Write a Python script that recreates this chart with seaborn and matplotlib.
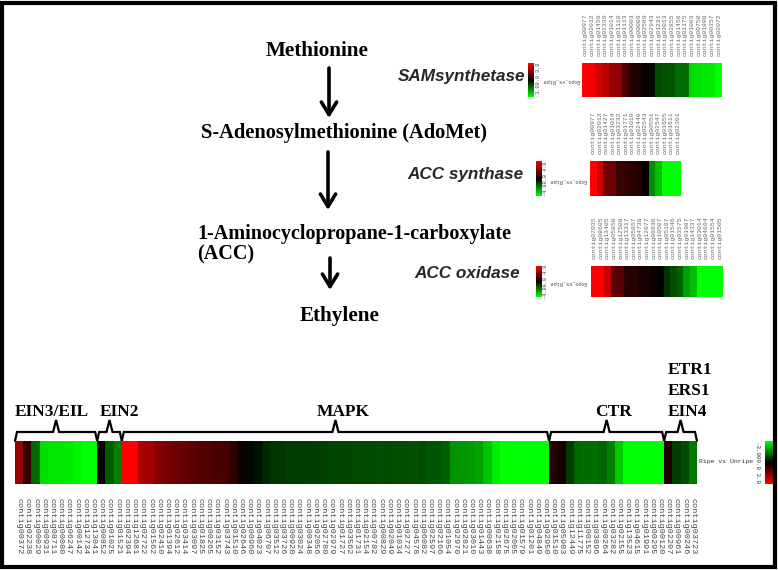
import numpy as np
import pandas as pd
import matplotlib
matplotlib.use('Agg')
import matplotlib.pyplot as plt
import seaborn as sns
from matplotlib.colors import LinearSegmentedColormap
from matplotlib.patches import Rectangle

# ---- data ----
sam_labels = ['contig00977', 'contig02012', 'contig01459', 'contig02339', 'contig01014',
              'contig01110', 'contig01113', 'contig00003', 'contig00009', 'contig02569',
              'contig02943', 'contig01231', 'contig03013', 'contig02855', 'contig01456',
              'contig01175', 'contig01003', 'contig00750', 'contig01808', 'contig00357',
              'contig02072']
sam_values = [3.0, 2.9, 2.5, 2.2, 1.8, 1.7, 0.9, 0.4, 0.35, 0.1, -0.15, -0.9, -0.95,
              -1.0, -1.25, -1.3, -2.6, -2.65, -2.7, -2.75, -3.0]

accs_labels = ['contig00977', 'contig02012', 'contig01427', 'contig01014', 'contig03232',
               'contig01771', 'contig01010', 'contig02440', 'contig02543', 'contig00551',
               'contig02547', 'contig01655', 'contig01611', 'contig02301']
accs_values = [4.0, 3.2, 1.75, 1.7, 0.9, 0.85, 0.6, 0.55, 0.05, -2.2, -3.0, -4.0, -4.0, -4.0]

acco_labels = ['contig07035', 'contig08605', 'contig13405', 'contig05850', 'contig12508',
               'contig13317', 'contig05857', 'contig04738', 'contig12677', 'contig08636',
               'contig10507', 'contig05167', 'contig01546', 'contig03575', 'contig01987',
               'contig14337', 'contig03014', 'contig04694', 'contig01554', 'contig01505']
acco_values = [4.0, 4.0, 3.1, 1.4, 1.4, 0.65, 0.6, 0.4, 0.4, 0.15, 0.0, -0.8, -1.25,
               -1.55, -2.5, -3.0, -4.0, -4.0, -4.0, -4.0]

strip_labels = ['contig00372', 'contig02238', 'contig00029', 'contig00931', 'contig08711',
                'contig00080', 'contig06247', 'contig00142', 'contig12734', 'contig13041',
                'contig00852', 'contig01025', 'contig01521', 'contig02394', 'contig12681',
                'contig02722', 'contig01562', 'contig02410', 'contig01394', 'contig02612',
                'contig03414', 'contig03097', 'contig01825', 'contig00265', 'contig03152',
                'contig03743', 'contig01510', 'contig02646', 'contig00960', 'contig04023',
                'contig06707', 'contig03512', 'contig03726', 'contig00920', 'contig03024',
                'contig00348', 'contig02056', 'contig02780', 'contig02979', 'contig01727',
                'contig03562', 'contig01731', 'contig02154', 'contig00782', 'contig00829',
                'contig02049', 'contig01034', 'contig02727', 'contig04578', 'contig06082',
                'contig02597', 'contig02166', 'contig01054', 'contig02970', 'contig02821',
                'contig03010', 'contig01443', 'contig00638', 'contig02158', 'contig02675',
                'contig02005', 'contig01579', 'contig01201', 'contig04849', 'contig02950',
                'contig01510', 'contig05903', 'contig12449', 'contig11775', 'contig00152',
                'contig03896', 'contig00264', 'contig03282', 'contig02155', 'contig13523',
                'contig04615', 'contig01991', 'contig00295', 'contig00120', 'contig02207',
                'contig00961', 'contig00246', 'contig03723']
strip_values = [1.8, 0.6, -1.2, -2.6, -2.7, -2.7, -2.75, -2.9, -3.0, -3.0,
                0.05, -1.1, -1.5,
                3.0, 3.0, 2.0, 1.9, 1.55, 1.4, 1.3, 1.2, 1.1, 1.0, 0.95, 0.85, 0.8, 0.6,
                0.15, -0.1, -0.2, -0.45, -0.6, -0.65, -0.7, -0.7, -0.7, -0.75, -0.75,
                -0.8, -0.8, -0.8, -0.85, -0.85, -0.85, -0.9, -0.85, -0.9, -0.9, -0.95,
                -0.9, -1.0, -1.0, -1.1, -1.75, -1.75, -1.8, -1.9, -2.3, -2.8, -3.0,
                -3.0, -3.0, -3.0, -3.0, -3.0,
                0.45, 0.25, -0.7, -1.2, -1.25, -1.3, -1.2, -1.5, -2.4, -3.0, -3.0,
                -3.0, -3.0, -3.0,
                0.4, -0.7, -0.9, -1.4]

groups = ['EIN3/EIL', 'EIN2', 'MAPK', 'CTR', 'ETR']
group_sizes = [10, 3, 52, 14, 4]

W, H = 778, 570
cmap = LinearSegmentedColormap.from_list('gbr', ['#00ff00', '#000000', '#ff0000'])

sns.set_style('white')
plt.rcParams['font.family'] = ['DejaVu Sans']

fig = plt.figure(figsize=(W / 100, H / 100), dpi=100)
base = fig.add_axes([0, 0, 1, 1])
base.set_xlim(0, W)
base.set_ylim(H, 0)
base.axis('off')


def px_axes(x0, y0, x1, y1):
    return fig.add_axes([x0 / W, 1 - y1 / H, (x1 - x0) / W, (y1 - y0) / H])


# frame
base.add_patch(Rectangle((2.5, 2.5), W - 5, H - 6, fill=False, lw=3, ec='black'))

serif = dict(family='Liberation Serif', weight='bold', color='black')
base.text(317, 51, 'Methionine', ha='center', va='center', fontsize=15.2, **serif)
base.text(201, 133, 'S-Adenosylmethionine (AdoMet)', ha='left', va='center', fontsize=14.7, **serif)
base.text(197, 234, '1-Aminocyclopropane-1-carboxylate', ha='left', va='center', fontsize=14.5, **serif)
base.text(197, 254, '(ACC)', ha='left', va='center', fontsize=14.5, **serif)
base.text(300, 316, 'Ethylene', ha='left', va='center', fontsize=15.2, **serif)

for x, y0, y1 in [(329, 68, 118), (328, 152, 210), (330, 258, 290)]:
    base.annotate('', xy=(x, y1), xytext=(x, y0),
                  arrowprops=dict(arrowstyle='->,head_width=0.55,head_length=0.9',
                                  lw=2.6, color='black', shrinkA=0, shrinkB=0))

gene = dict(family='Liberation Sans', weight='bold', style='italic', fontsize=12.3,
            ha='right', va='center')
base.text(525, 77, 'SAMsynthetase', **gene)
base.text(523, 175, 'ACC synthase', **gene)
base.text(520, 274, 'ACC oxidase', **gene)

mono = ['Liberation Mono', 'DejaVu Sans Mono']


def top_heatmap(values, labels, box, cbox, vmax, num_x, name_x, name_y):
    ax = px_axes(*box)
    cax = px_axes(*cbox)
    df = pd.DataFrame([values], columns=labels)
    sns.heatmap(df, ax=ax, cmap=cmap, vmin=-vmax, vmax=vmax, cbar_ax=cax,
                xticklabels=labels, yticklabels=False, linewidths=0)
    ax.xaxis.tick_top()
    ax.tick_params(axis='x', length=0, pad=5)
    for t in ax.get_xticklabels():
        t.set_rotation(90)
        t.set_fontsize(4.6)
        t.set_family(mono)
        t.set_color('#666666')
    cax.set_yticks([])
    ax.collections[0].colorbar.outline.set_visible(False)
    yc = (cbox[1] + cbox[3]) / 2
    base.text(num_x, yc, f'-{vmax:.1f}0.0 {vmax:.1f}', rotation=90, ha='center',
              va='center', fontsize=3.8, family=mono, color='#444444')
    base.text(name_x, name_y, 'Expo_vs_Ripe', rotation=180, ha='center', va='center',
              fontsize=3.8, family=mono, color='#444444')
    return ax


top_heatmap(sam_values, sam_labels, (582, 63, 722, 97), (528, 63, 534, 97), 3.0, 539, 561, 80)
top_heatmap(accs_values, accs_labels, (590, 161, 681, 196), (536, 161, 542, 196), 4.0, 546, 568, 181)
top_heatmap(acco_values, acco_labels, (591, 266, 723, 297), (536, 266, 542, 297), 4.0, 546, 568, 282)

# bottom strip
ax = px_axes(15, 441, 697, 484)
cax = px_axes(765, 441, 773, 484)
df = pd.DataFrame([strip_values], columns=strip_labels)
sns.heatmap(df, ax=ax, cmap=cmap, vmin=-3, vmax=3, cbar_ax=cax,
            xticklabels=strip_labels, yticklabels=False, linewidths=0)
ax.tick_params(axis='x', length=0, pad=10)
for t in ax.get_xticklabels():
    t.set_rotation(270)
    t.set_fontsize(6.1)
    t.set_family(mono)
    t.set_color('#444444')
cax.set_yticks([])
cax.invert_yaxis()
ax.collections[0].colorbar.outline.set_visible(False)
base.text(726, 462, 'Ripe vs Unripe', ha='center', va='center', fontsize=4.6,
          family=mono, color='#333333')
base.text(758, 462, '-3.000.0 3.0', rotation=270, ha='center', va='center',
          fontsize=4.2, family=mono, color='#333333')

# braces over groups
x_left, cell = 15, (697 - 15) / len(strip_values)
start = 0
for name, n in zip(groups, group_sizes):
    x0 = x_left + start * cell
    x1 = x_left + (start + n) * cell
    pk = (x0 + x1) / 2
    base.plot([x0, x0 + 2, pk - 3, pk, pk + 3, x1 - 2, x1],
              [441, 432, 432, 420, 432, 432, 441], color='black', lw=1.6,
              solid_joinstyle='miter')
    start += n

lab = dict(fontsize=12.5, ha='left', va='center', **serif)
base.text(15, 412, 'EIN3/EIL', **lab)
base.text(100, 412, 'EIN2', **lab)
base.text(317, 412, 'MAPK', **lab)
base.text(595, 412, 'CTR', **lab)
base.text(668, 370, 'ETR1', **lab)
base.text(668, 391, 'ERS1', **lab)
base.text(668, 412, 'EIN4', **lab)

fig.savefig('out.png', dpi=100)
